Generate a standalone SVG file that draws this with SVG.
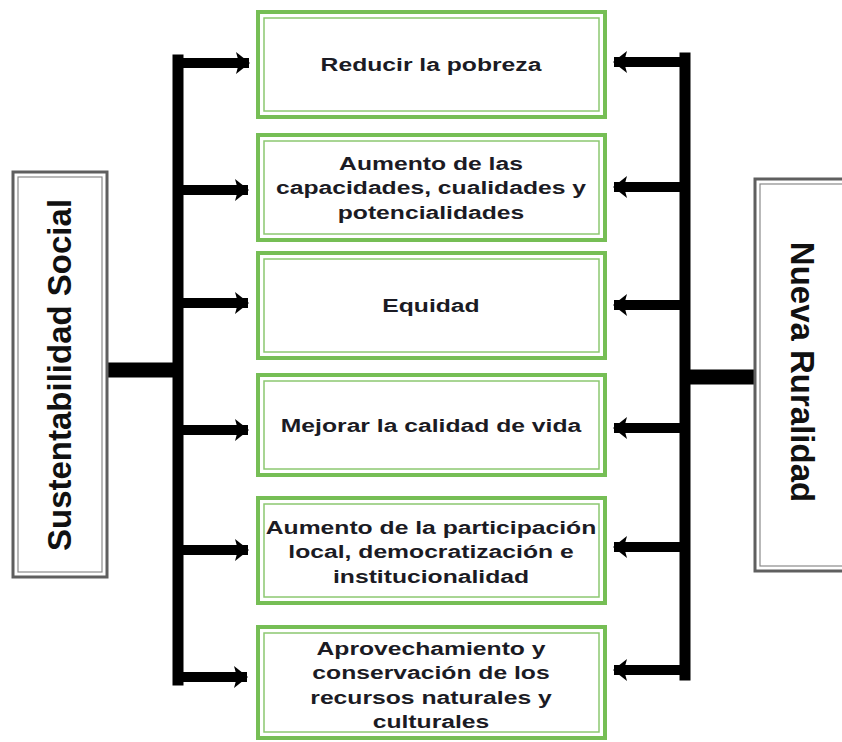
<svg xmlns="http://www.w3.org/2000/svg" width="842" height="742" viewBox="0 0 842 742">
<defs>
<marker id="ah" viewBox="0 0 14 22" refX="13" refY="11" markerWidth="14" markerHeight="22" markerUnits="userSpaceOnUse" orient="auto">
<path d="M0,0 L14,11 L0,22 L3,11 Z" fill="#000"/>
</marker>
<style>
.gbox{fill:#fff;stroke:#76BE55;stroke-width:4}
.gin{fill:none;stroke:#8CC870;stroke-width:1.5}
.sbox{fill:#fff;stroke:#5f5f5f;stroke-width:3}
.sin{fill:none;stroke:#8a8a8a;stroke-width:1.2}
.t{font-family:"Liberation Sans",Arial,sans-serif;font-weight:bold;font-size:19px;fill:#1b1b24;text-anchor:middle}
.big{font-family:"Liberation Sans",Arial,sans-serif;font-weight:bold;font-size:33px;fill:#111;text-anchor:middle}
.trunk{stroke:#000;stroke-width:11;fill:none;stroke-linecap:square}
.bar{stroke:#000;stroke-width:15;fill:none}
.arr{stroke:#000;stroke-width:10;fill:none;marker-end:url(#ah)}
</style>
</defs>
<rect width="842" height="742" fill="#fff"/>

<g id="connectors">
<line class="trunk" x1="178" y1="60" x2="178" y2="680"/>
<line class="bar" x1="107" y1="370" x2="178" y2="370"/>
<line class="arr" x1="173" y1="63" x2="249" y2="63"/>
<line class="arr" x1="178" y1="190" x2="248" y2="190"/>
<line class="arr" x1="178" y1="303" x2="248" y2="303"/>
<line class="arr" x1="178" y1="430" x2="248" y2="430"/>
<line class="arr" x1="178" y1="550" x2="248" y2="550"/>
<line class="arr" x1="173" y1="677" x2="247" y2="677"/>

<line class="trunk" x1="685" y1="58" x2="685" y2="675"/>
<line class="bar" x1="685" y1="377" x2="756" y2="377"/>
<line class="arr" x1="690" y1="62" x2="614" y2="62"/>
<line class="arr" x1="685" y1="187" x2="614" y2="187"/>
<line class="arr" x1="685" y1="305" x2="614" y2="305"/>
<line class="arr" x1="685" y1="428" x2="614" y2="428"/>
<line class="arr" x1="685" y1="547" x2="614" y2="547"/>
<line class="arr" x1="690" y1="670" x2="614" y2="670"/>
</g>

<g id="sustentabilidad">
<rect class="sbox" x="13" y="172" width="94" height="405"/>
<rect class="sin" x="18" y="177" width="84" height="395"/>
<text class="big" transform="translate(71,375) rotate(-90)">Sustentabilidad Social</text>
</g>

<g id="nueva">
<rect class="sbox" x="755" y="179" width="100" height="392"/>
<rect class="sin" x="760" y="184" width="100" height="382"/>
<text class="big" transform="translate(791,372) rotate(90)">Nueva Ruralidad</text>
</g>

<g id="b1">
<rect class="gbox" x="258" y="12" width="347" height="105"/>
<rect class="gin" x="264" y="18" width="335" height="93"/>
<text class="t" transform="translate(431,71) scale(1.3,1)">Reducir la pobreza</text>
</g>

<g id="b2">
<rect class="gbox" x="258" y="135" width="347" height="105"/>
<rect class="gin" x="264" y="141" width="335" height="93"/>
<text class="t" transform="translate(431,170) scale(1.3,1)"><tspan x="0">Aumento de las</tspan><tspan x="0" dy="24.5">capacidades, cualidades y</tspan><tspan x="0" dy="24.5">potencialidades</tspan></text>
</g>

<g id="b3">
<rect class="gbox" x="258" y="253" width="347" height="105"/>
<rect class="gin" x="264" y="259" width="335" height="93"/>
<text class="t" transform="translate(431,312) scale(1.3,1)">Equidad</text>
</g>

<g id="b4">
<rect class="gbox" x="258" y="375" width="347" height="100"/>
<rect class="gin" x="264" y="381" width="335" height="88"/>
<text class="t" transform="translate(431,432) scale(1.3,1)">Mejorar la calidad de vida</text>
</g>

<g id="b5">
<rect class="gbox" x="258" y="498" width="347" height="105"/>
<rect class="gin" x="264" y="504" width="335" height="93"/>
<text class="t" transform="translate(431,534) scale(1.3,1)"><tspan x="0">Aumento de la participación</tspan><tspan x="0" dy="24.5">local, democratización e</tspan><tspan x="0" dy="24.5">institucionalidad</tspan></text>
</g>

<g id="b6">
<rect class="gbox" x="258" y="627" width="347" height="111"/>
<rect class="gin" x="264" y="633" width="335" height="99"/>
<text class="t" transform="translate(431,655) scale(1.3,1)"><tspan x="0">Aprovechamiento y</tspan><tspan x="0" dy="24.5">conservación de los</tspan><tspan x="0" dy="24.5">recursos naturales y</tspan><tspan x="0" dy="24.5">culturales</tspan></text>
</g>
</svg>
